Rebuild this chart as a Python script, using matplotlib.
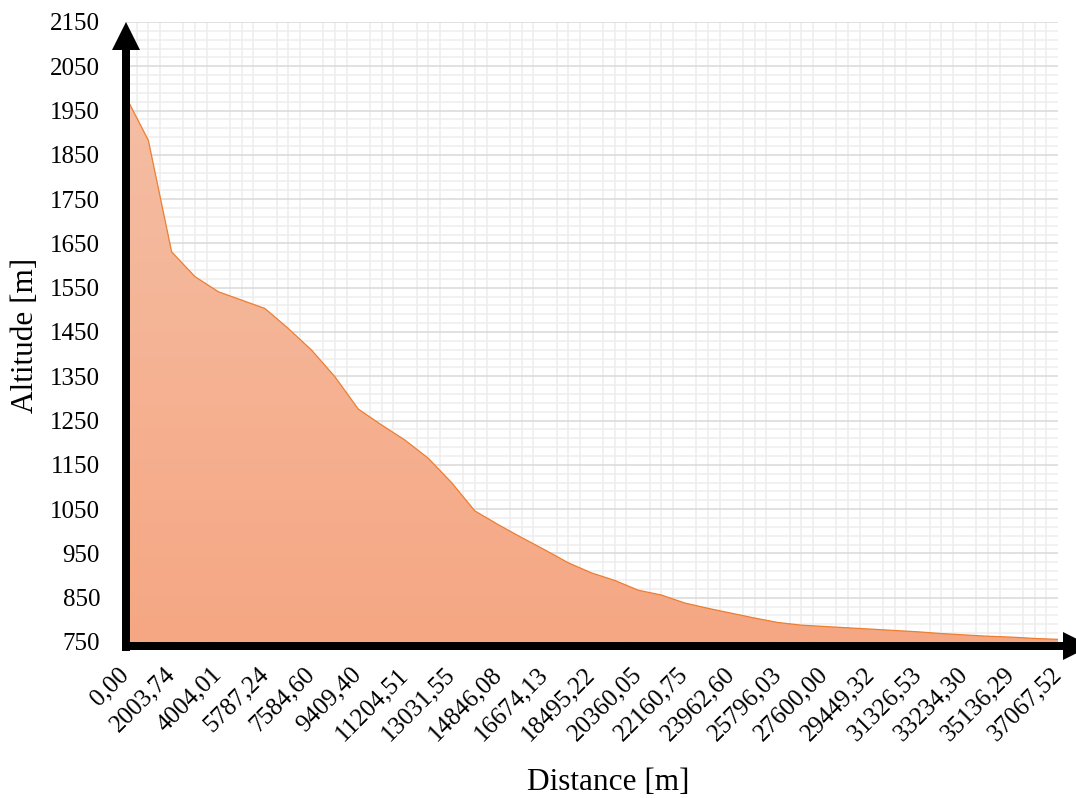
"""Altitude profile along the route, drawn as a filled area chart."""

import matplotlib
import numpy as np

matplotlib.use("Agg")
import matplotlib.pyplot as plt
from matplotlib.colors import LinearSegmentedColormap
from matplotlib.lines import Line2D
from matplotlib.patches import Polygon

# altitude [m] at each profile point (41 points, evenly spaced along the route)
altitude = [
    1985, 1883, 1631, 1575, 1541, 1522, 1503, 1458, 1409, 1349,
    1276, 1240, 1206, 1165, 1110, 1046, 1015, 986, 958, 929,
    906, 889, 867, 856, 838, 826, 815, 804, 794, 788,
    785, 782, 779, 776, 773, 769, 766, 763, 761, 758, 756,
]
# distance labels shown under every second point
distance_labels = [
    "0,00", "2003,74", "4004,01", "5787,24", "7584,60", "9409,40",
    "11204,51", "13031,55", "14846,08", "16674,13", "18495,22", "20360,05",
    "22160,75", "23962,60", "25796,03", "27600,00", "29449,32", "31326,53",
    "33234,30", "35136,29", "37067,52",
]
label_step = 2
y_min, y_max = 750, 2150
y_major, y_minor = 100, 20

# figure layout in pixels (figure is 1076 x 798)
FIG_W, FIG_H = 1076, 798
AX_LEFT, AX_RIGHT, AX_TOP, AX_BOTTOM = 125, 1058, 22, 642
AX_W, AX_H = AX_RIGHT - AX_LEFT, AX_BOTTOM - AX_TOP


def px_to_axes(px, py):
    return (px - AX_LEFT) / AX_W, (AX_BOTTOM - py) / AX_H


plt.rcParams["font.family"] = ["Liberation Serif", "DejaVu Serif"]

fig = plt.figure(figsize=(FIG_W / 100, FIG_H / 100), dpi=100)
ax = fig.add_axes([AX_LEFT / FIG_W, 1 - AX_BOTTOM / FIG_H, AX_W / FIG_W, AX_H / FIG_H])

x = np.arange(len(altitude))

# area with a soft vertical gradient
area = ax.fill_between(x, altitude, y_min, color="none", lw=0)
gradient = np.linspace(0, 1, 256).reshape(-1, 1)
cmap = LinearSegmentedColormap.from_list("area", ["#f6a783", "#f4bea4"])
img = ax.imshow(gradient, extent=[x[0], x[-1], y_min, max(altitude)], origin="lower",
                aspect="auto", cmap=cmap, zorder=2, interpolation="bilinear")
img.set_clip_path(area.get_paths()[0], transform=ax.transData)
ax.plot(x, altitude, color="#ed7d31", lw=0.9, zorder=3)

ax.set_xlim(x[0], x[-1])
ax.set_ylim(y_min, y_max)

# ticks and grid
ax.set_yticks(np.arange(y_min, y_max + 1, y_major))
ax.set_yticks(np.arange(y_min, y_max + 1, y_minor), minor=True)
tick_pos = x[::label_step]
ax.set_xticks(tick_pos)
ax.set_xticklabels(distance_labels, rotation=45, ha="right", va="center", rotation_mode="anchor")
ax.set_xticks([k / 2 for k in range(1, 2 * len(altitude) - 1) if k % (2 * label_step) != 0], minor=True)

ax.set_axisbelow(True)
ax.grid(which="major", axis="y", color="#d9d9d9", lw=1.1)
ax.grid(which="minor", axis="y", color="#eeeeee", lw=1.1)
ax.grid(which="minor", axis="x", color="#eeeeee", lw=1.1)
ax.tick_params(which="both", length=0)
ax.tick_params(axis="y", labelsize=18, pad=18)
ax.tick_params(axis="x", labelsize=18, pad=21)
for spine in ax.spines.values():
    spine.set_visible(False)

# thick black axes with arrow heads
axis_lw = 8 * 72 / 100
for (x0, y0), (x1, y1) in [((126, 651), (126, 48)), ((122, 646), (1065, 646))]:
    (ax0, ay0), (ax1, ay1) = px_to_axes(x0, y0), px_to_axes(x1, y1)
    ax.add_line(Line2D([ax0, ax1], [ay0, ay1], transform=ax.transAxes, color="black",
                       lw=axis_lw, solid_capstyle="butt", clip_on=False, zorder=5))
for head in [[(112, 50), (140, 50), (126, 22)], [(1063, 632), (1063, 660), (1091, 646)]]:
    ax.add_patch(Polygon([px_to_axes(px, py) for px, py in head], closed=True,
                         transform=ax.transAxes, color="black", lw=0, clip_on=False, zorder=5))

ax.set_ylabel("Altitude [m]", fontsize=22.5)
ax.yaxis.set_label_coords(*px_to_axes(40, 335))
ax.set_xlabel("Distance [m]", fontsize=22.5)
ax.xaxis.set_label_coords(*px_to_axes(608, 768))

fig.savefig("out.png", dpi=100)
